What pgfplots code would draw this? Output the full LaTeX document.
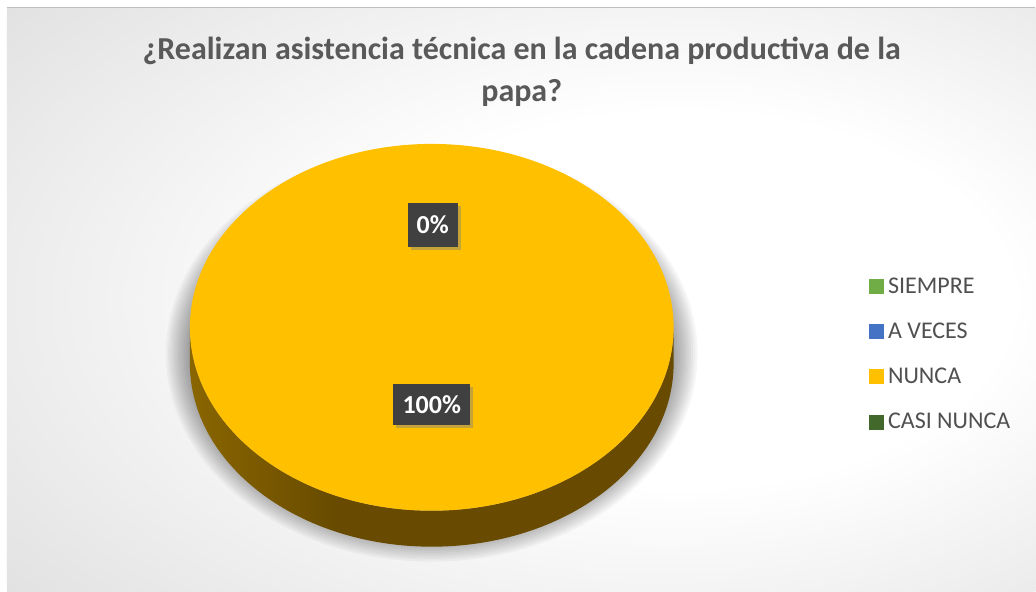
\documentclass[border=0pt]{standalone}
\usepackage{pgfplots}
\pgfplotsset{compat=1.18}
\usepackage{pgfplotstable}
\usepackage{fontspec}
\setmainfont{Carlito}
\usetikzlibrary{shadows}

\definecolor{cSiempre}{HTML}{70AD47}
\definecolor{cAveces}{HTML}{4472C4}
\definecolor{cNunca}{HTML}{FFC000}
\definecolor{cCasi}{HTML}{43682B}
\definecolor{txtgrey}{HTML}{595959}
\definecolor{lblbox}{HTML}{404040}
\definecolor{bgmid}{HTML}{DADADA}
\definecolor{bgedge}{HTML}{C2C2C2}
\definecolor{sideL}{HTML}{C29200}
\definecolor{sideD}{HTML}{684B00}

\pgfdeclareradialshading{bgshade}{\pgfpoint{10bp}{0bp}}{%
  color(0bp)=(white); color(16bp)=(white); color(45bp)=(bgmid); color(74bp)=(bgedge)}
\pgfdeclarehorizontalshading{sideshade}{100bp}{%
  color(0bp)=(sideL); color(40bp)=(sideD); color(100bp)=(sideD)}

% category, value (share in percent)
\pgfplotstableread{
cat value
SIEMPRE 0
AVECES 0
NUNCA 100
CASINUNCA 0
}\piedata

\begin{document}
\begin{tikzpicture}
\begin{axis}[
  x=1pt, y=1pt,
  xmin=0, xmax=1036, ymin=0, ymax=592,
  hide axis, clip=false,
  legend style={draw=none, fill=none, at={(axis cs:869,314)}, anchor=north west,
    font=\fontsize{24}{24}\selectfont, text=txtgrey!90!black, row sep=28pt, column sep=5pt,
    inner sep=0pt, nodes={inner sep=0pt}},
  legend cell align=left,
]
% background
\fill[white] (axis cs:0,0) rectangle (axis cs:1036,592);
\shade[shading=bgshade] (axis cs:7,0) rectangle (axis cs:1036,584);
\draw[color=black!25, line width=1.2pt] (axis cs:7,584.4) -- (axis cs:1036,584.4);

% soft shadow under the pie
\pgfplotsinvokeforeach{0,...,10}{%
  \fill[black, opacity=0.035] (axis cs:432,238) ellipse[x radius={244+2.2*#1}, y radius={186+2.2*#1}];
}

% pie side (thickness 36)
\shade[shading=sideshade] (axis cs:190,264.5) -- (axis cs:190,228.5)
   arc[start angle=180, end angle=360, x radius=242, y radius=183.5]
   -- (axis cs:674,264.5)
   arc[start angle=360, end angle=180, x radius=242, y radius=183.5] -- cycle;

% pie top: NUNCA = 100 %
\fill[cNunca] (axis cs:432,264.5) ellipse[x radius=242, y radius=183.5];

% data labels
\node[fill=lblbox, text=white, font=\bfseries\fontsize{26}{26}\selectfont,
      minimum width=50pt, minimum height=44pt, inner sep=0pt,
      drop shadow={shadow xshift=3pt, shadow yshift=-3pt, opacity=0.45}]
   at (axis cs:433,367) {0\%};
\node[fill=lblbox, text=white, font=\bfseries\fontsize{26}{26}\selectfont,
      minimum width=77pt, minimum height=41pt, inner sep=0pt,
      drop shadow={shadow xshift=3pt, shadow yshift=-3pt, opacity=0.45}]
   at (axis cs:432,187.5) {100\%};

% title
\node[text=txtgrey, font=\bfseries\fontsize{32}{42}\selectfont, align=center]
   at (axis cs:522,520) {¿Realizan asistencia técnica en la cadena productiva de la\\papa?};

\addlegendimage{legend image code/.code={\fill[cSiempre] (0pt,-7pt) rectangle (14pt,7pt);}}
\addlegendentry{SIEMPRE}
\addlegendimage{legend image code/.code={\fill[cAveces] (0pt,-7pt) rectangle (14pt,7pt);}}
\addlegendentry{A VECES}
\addlegendimage{legend image code/.code={\fill[cNunca] (0pt,-7pt) rectangle (14pt,7pt);}}
\addlegendentry{NUNCA}
\addlegendimage{legend image code/.code={\fill[cCasi] (0pt,-7pt) rectangle (14pt,7pt);}}
\addlegendentry{CASI NUNCA}
\end{axis}
\end{tikzpicture}
\end{document}
